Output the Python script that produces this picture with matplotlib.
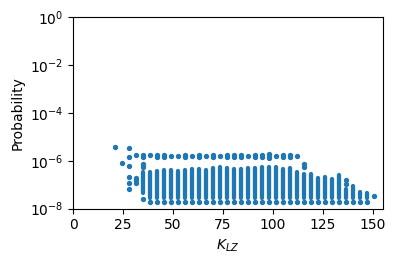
import matplotlib
matplotlib.use("Agg")
import matplotlib.pyplot as plt

# dense columns: K_LZ value, top and bottom of the solid run of points
col_k = [35, 38.5, 42, 45.5, 49, 52.5, 56, 59.5, 63, 66.5, 70, 73.5, 77,
         80.5, 84, 87.5, 91, 94.5, 98, 101.5, 105, 108.5, 112, 115.5, 119,
         122.5, 126, 129.5, 133, 136.5, 140, 143.5, 147]
col_top = [3.4e-7, 3.4e-7, 3.7e-7, 4.1e-7, 4.1e-7, 3.8e-7, 4.1e-7, 4.5e-7,
           4.5e-7, 4.1e-7, 4.9e-7, 5.2e-7, 4.9e-7, 4.5e-7, 4.5e-7, 4.9e-7,
           4.9e-7, 5.4e-7, 5.4e-7, 5.7e-7, 4.7e-7, 4.9e-7, 3.5e-7, 2.7e-7,
           2.9e-7, 1.8e-7, 2.1e-7, 1.7e-7, 2.6e-7, 6.5e-8, 8.7e-8, 5.1e-8,
           4.3e-8]
col_bottom = [4.3e-8] + [2.75e-8] * 32

# lowest row of points (single occurrence)
floor_k = col_k[1:]
floor_p = [1.8e-8] * len(floor_k)

# isolated points
extra_k = [21, 24.5,
           28, 28, 28, 28, 28, 28,
           31.5, 31.5, 31.5, 31.5,
           35, 35, 35, 35, 35,
           38.5, 42, 42, 45.5, 45.5, 49, 52.5, 56, 56, 59.5, 63, 63, 66.5,
           70, 70, 73.5, 77, 77, 80.5, 80.5, 84, 84, 87.5, 91, 91, 94.5, 94.5,
           98, 98, 98, 101.5, 105, 105, 108.5, 108.5, 112,
           115.5, 115.5, 136.5, 136.5, 150.5]
extra_p = [3.7e-6, 7.8e-7,
           3.56e-6, 1.43e-6, 6.0e-7, 2.0e-7, 1.17e-7, 6.4e-8,
           1.7e-6, 1.9e-7, 1.5e-7, 1.15e-7,
           1.75e-6, 1.45e-6, 7.4e-7, 5.6e-7, 2.6e-8,
           1.8e-6, 1.8e-6, 1.45e-6, 1.8e-6, 1.45e-6, 1.6e-6, 1.6e-6, 1.8e-6,
           1.45e-6, 1.6e-6, 1.8e-6, 1.45e-6, 1.6e-6,
           1.8e-6, 1.45e-6, 1.6e-6, 1.8e-6, 1.45e-6, 1.8e-6, 1.45e-6,
           1.8e-6, 1.45e-6, 1.6e-6, 1.8e-6, 1.45e-6, 1.8e-6, 1.45e-6,
           1.85e-6, 1.55e-6, 1.3e-6, 1.6e-6, 1.8e-6, 1.45e-6, 1.8e-6,
           1.45e-6, 1.6e-6,
           7.0e-7, 5.5e-7, 1.6e-7, 1.05e-7, 3.2e-8]

color = "#1f77b4"

fig = plt.figure(figsize=(3.96, 2.65), dpi=100)
ax = fig.add_axes([73 / 396, 56.5 / 265, 310 / 396, 191.2 / 265])

# solid runs of overlapping points drawn as thick round-capped lines
ax.vlines(col_k, col_bottom, col_top, colors=color, linewidth=3.1,
          capstyle="round")
ax.scatter(floor_k, floor_p, s=8, color=color)
ax.scatter(extra_k, extra_p, s=8, color=color)

ax.set_yscale("log")
ax.set_ylim(1e-8, 1e0)
ax.set_xlim(0, 155)
ax.set_xticks([0, 25, 50, 75, 100, 125, 150])
ax.set_yticks([1e-8, 1e-6, 1e-4, 1e-2, 1e0])
ax.minorticks_off()
ax.set_xlabel("$K_{LZ}$")
ax.set_ylabel("Probability")

fig.savefig("out.png", dpi=100)
